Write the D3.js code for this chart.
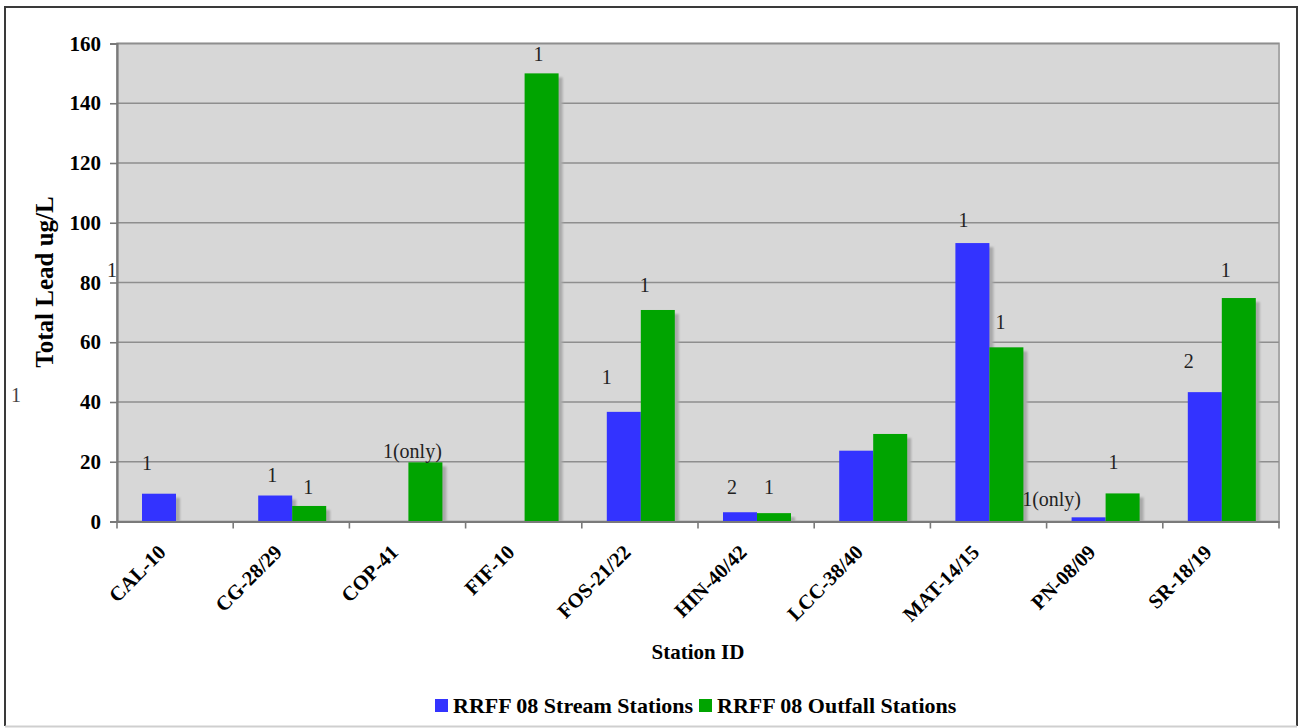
<!DOCTYPE html>
<html>
<head>
<meta charset="utf-8">
<script src="https://cdn.jsdelivr.net/npm/d3@7"></script>
<style>
  html, body { margin: 0; padding: 0; background: #ffffff; }
  svg { display: block; }
  svg text { font-family: "Liberation Serif", "Times New Roman", serif !important; }
</style>
</head>
<body>
<svg id="chart" width="1299" height="728"></svg>
<script>
// ---- Data ----
const categories = ["CAL-10", "CG-28/29", "COP-41", "FIF-10", "FOS-21/22", "HIN-40/42", "LCC-38/40", "MAT-14/15", "PN-08/09", "SR-18/19"];
const seriesNames = ["RRFF 08 Stream Stations", "RRFF 08 Outfall Stations"];
const streamValues = [9.3, 8.7, null, null, 36.7, 3.1, 23.7, 93.2, 1.4, 43.3];
const outfallValues = [null, 5.2, 19.8, 150, 70.8, 2.8, 29.3, 58.3, 9.4, 74.8];
const yTicks = [0, 20, 40, 60, 80, 100, 120, 140, 160];

// Count annotations above bars: category, series index, text, value-height of label
const annotCats = ["CAL-10", "CG-28/29", "CG-28/29", "COP-41", "FIF-10", "FOS-21/22", "FOS-21/22", "HIN-40/42", "HIN-40/42", "MAT-14/15", "MAT-14/15", "PN-08/09", "PN-08/09", "SR-18/19", "SR-18/19"];
const annotSeries = [0, 0, 1, 1, 1, 0, 1, 0, 1, 0, 1, 0, 1, 0, 1];
const annotTexts = ["1", "1", "1", "1(only)", "1", "1", "1", "2", "1", "1", "1", "1(only)", "1", "2", "1"];
const annotLevels = [19.6, 15.6, 11.5, 23.6, 156.4, 48.4, 79.3, 11.5, 11.5, 100.9, 66.8, 7.5, 19.9, 53.8, 84.3];

// ---- Layout ----
const svg = d3.select("#chart");
const plot = { left: 117, right: 1279, top: 43.5, bottom: 521.5 };
const colors = ["#3333ff", "#00a400"];

const x0 = d3.scaleBand().domain(categories).range([plot.left, plot.right]).padding(0);
const x1 = d3.scaleBand().domain([0, 1]).range([25, 93]).padding(0);
const y = d3.scaleLinear().domain([0, 160]).range([plot.bottom, plot.top]);

// outer border
svg.append("path")
  .attr("d", `M5,726 L5,7 L1297,7 L1297,726`)
  .attr("fill", "none").attr("stroke", "#3a3a3a").attr("stroke-width", 2);
svg.append("line").attr("x1", 5).attr("x2", 1297).attr("y1", 726.5).attr("y2", 726.5)
  .attr("stroke", "#cfcfcf").attr("stroke-width", 2);

// defs
const defs = svg.append("defs");
defs.append("filter").attr("id", "blur").append("feGaussianBlur").attr("stdDeviation", 0.9);
defs.append("clipPath").attr("id", "plotclip").append("rect")
  .attr("x", plot.left).attr("y", plot.top)
  .attr("width", plot.right - plot.left).attr("height", plot.bottom - plot.top);

// plot background
svg.append("rect")
  .attr("x", plot.left).attr("y", plot.top)
  .attr("width", plot.right - plot.left).attr("height", plot.bottom - plot.top)
  .attr("fill", "#d7d7d7").attr("stroke", "#a8a8a8").attr("stroke-width", 2);

// gridlines
svg.append("g").selectAll("line").data(yTicks.filter(d => d > 0)).join("line")
  .attr("x1", plot.left).attr("x2", plot.right)
  .attr("y1", d => y(d)).attr("y2", d => y(d))
  .attr("stroke", "#8e8e8e").attr("stroke-width", 1.6);

// bars data
const barData = [];
categories.forEach((c, i) => {
  [streamValues[i], outfallValues[i]].forEach((v, s) => {
    if (v !== null) barData.push({ cat: c, s: s, v: v });
  });
});

// shadows
svg.append("g").attr("clip-path", "url(#plotclip)")
  .selectAll("rect").data(barData).join("rect")
  .attr("x", d => x0(d.cat) + x1(d.s) + 4)
  .attr("y", d => y(d.v) + 4)
  .attr("width", x1.bandwidth())
  .attr("height", d => y(0) - y(d.v))
  .attr("fill", "#a9a9a9")
  .attr("filter", "url(#blur)");

// bars
svg.append("g").selectAll("rect").data(barData).join("rect")
  .attr("x", d => x0(d.cat) + x1(d.s))
  .attr("y", d => y(d.v))
  .attr("width", x1.bandwidth())
  .attr("height", d => y(0) - y(d.v))
  .attr("fill", d => colors[d.s]);

// y axis
const yAxis = d3.axisLeft(y).tickValues(yTicks).tickSize(7).tickPadding(9).tickFormat(d3.format("d"));
const yg = svg.append("g").attr("transform", `translate(${plot.left},0)`).call(yAxis);
yg.attr("font-family", "Liberation Serif");
yg.select(".domain").attr("stroke", "#7a7a7a").attr("stroke-width", 2.2);
yg.selectAll(".tick line").attr("stroke", "#7a7a7a").attr("stroke-width", 1.6);
yg.selectAll(".tick text")
  .attr("font-weight", "bold")
  .attr("font-size", 21).attr("fill", "#000");

// x axis
const xAxis = d3.axisBottom(x0).tickSize(0).tickFormat("");
const xg = svg.append("g").attr("transform", `translate(0,${plot.bottom})`).call(xAxis);
xg.select(".domain").attr("stroke", "#7a7a7a").attr("stroke-width", 2.2);
// boundary ticks
const boundaries = categories.map(c => x0(c)).concat([plot.right]);
svg.append("g").selectAll("line").data(boundaries).join("line")
  .attr("x1", d => d).attr("x2", d => d)
  .attr("y1", plot.bottom).attr("y2", plot.bottom + 7)
  .attr("stroke", "#7a7a7a").attr("stroke-width", 1.6);

// x labels (rotated)
svg.append("g").selectAll("text").data(categories).join("text")
  .attr("transform", d => `translate(${x0(d) + x0.bandwidth() / 2 - 8},${plot.bottom + 32}) rotate(-45)`)
  .attr("text-anchor", "end")
  .attr("font-weight", "bold").attr("font-size", 20.5)
  .text(d => d);

// axis titles
svg.append("text")
  .attr("transform", `translate(53,282) rotate(-90)`)
  .attr("text-anchor", "middle")
  .attr("font-weight", "bold").attr("font-size", 25)
  .text("Total Lead ug/L");

svg.append("text")
  .attr("x", 698).attr("y", 659)
  .attr("text-anchor", "middle")
  .attr("font-weight", "bold").attr("font-size", 21)
  .text("Station ID");

// annotations
const annotShift = [-12, -3, -1, -13, -3, -17, -13, -8, -5, -9, -6, -37, -9, -16, -13];
svg.append("g").selectAll("text").data(annotTexts).join("text")
  .attr("x", (d, i) => x0(annotCats[i]) + x1(annotSeries[i]) + x1.bandwidth() / 2 + annotShift[i])
  .attr("y", (d, i) => y(annotLevels[i]))
  .attr("dy", "0.35em")
  .attr("text-anchor", "middle")
  .attr("font-size", 20)
  .attr("fill", "#222")
  .text(d => d);

// stray labels present in the original
svg.append("text").attr("x", 112).attr("y", y(84.2)).attr("dy", "0.35em")
  .attr("text-anchor", "middle").attr("font-size", 20).attr("fill", "#222").text("1");
svg.append("text").attr("x", 16).attr("y", 395).attr("dy", "0.35em")
  .attr("text-anchor", "middle").attr("font-size", 20).attr("fill", "#444").text("1");

// legend
const legend = svg.append("g");
const legendX = [435, 699];
seriesNames.forEach((name, i) => {
  legend.append("rect").attr("x", legendX[i]).attr("y", 699).attr("width", 13).attr("height", 13)
    .attr("fill", colors[i]);
  legend.append("text").attr("x", legendX[i] + 18).attr("y", 713)
    .attr("font-weight", "bold").attr("font-size", 22)
    .text(name);
});
</script>
</body>
</html>
